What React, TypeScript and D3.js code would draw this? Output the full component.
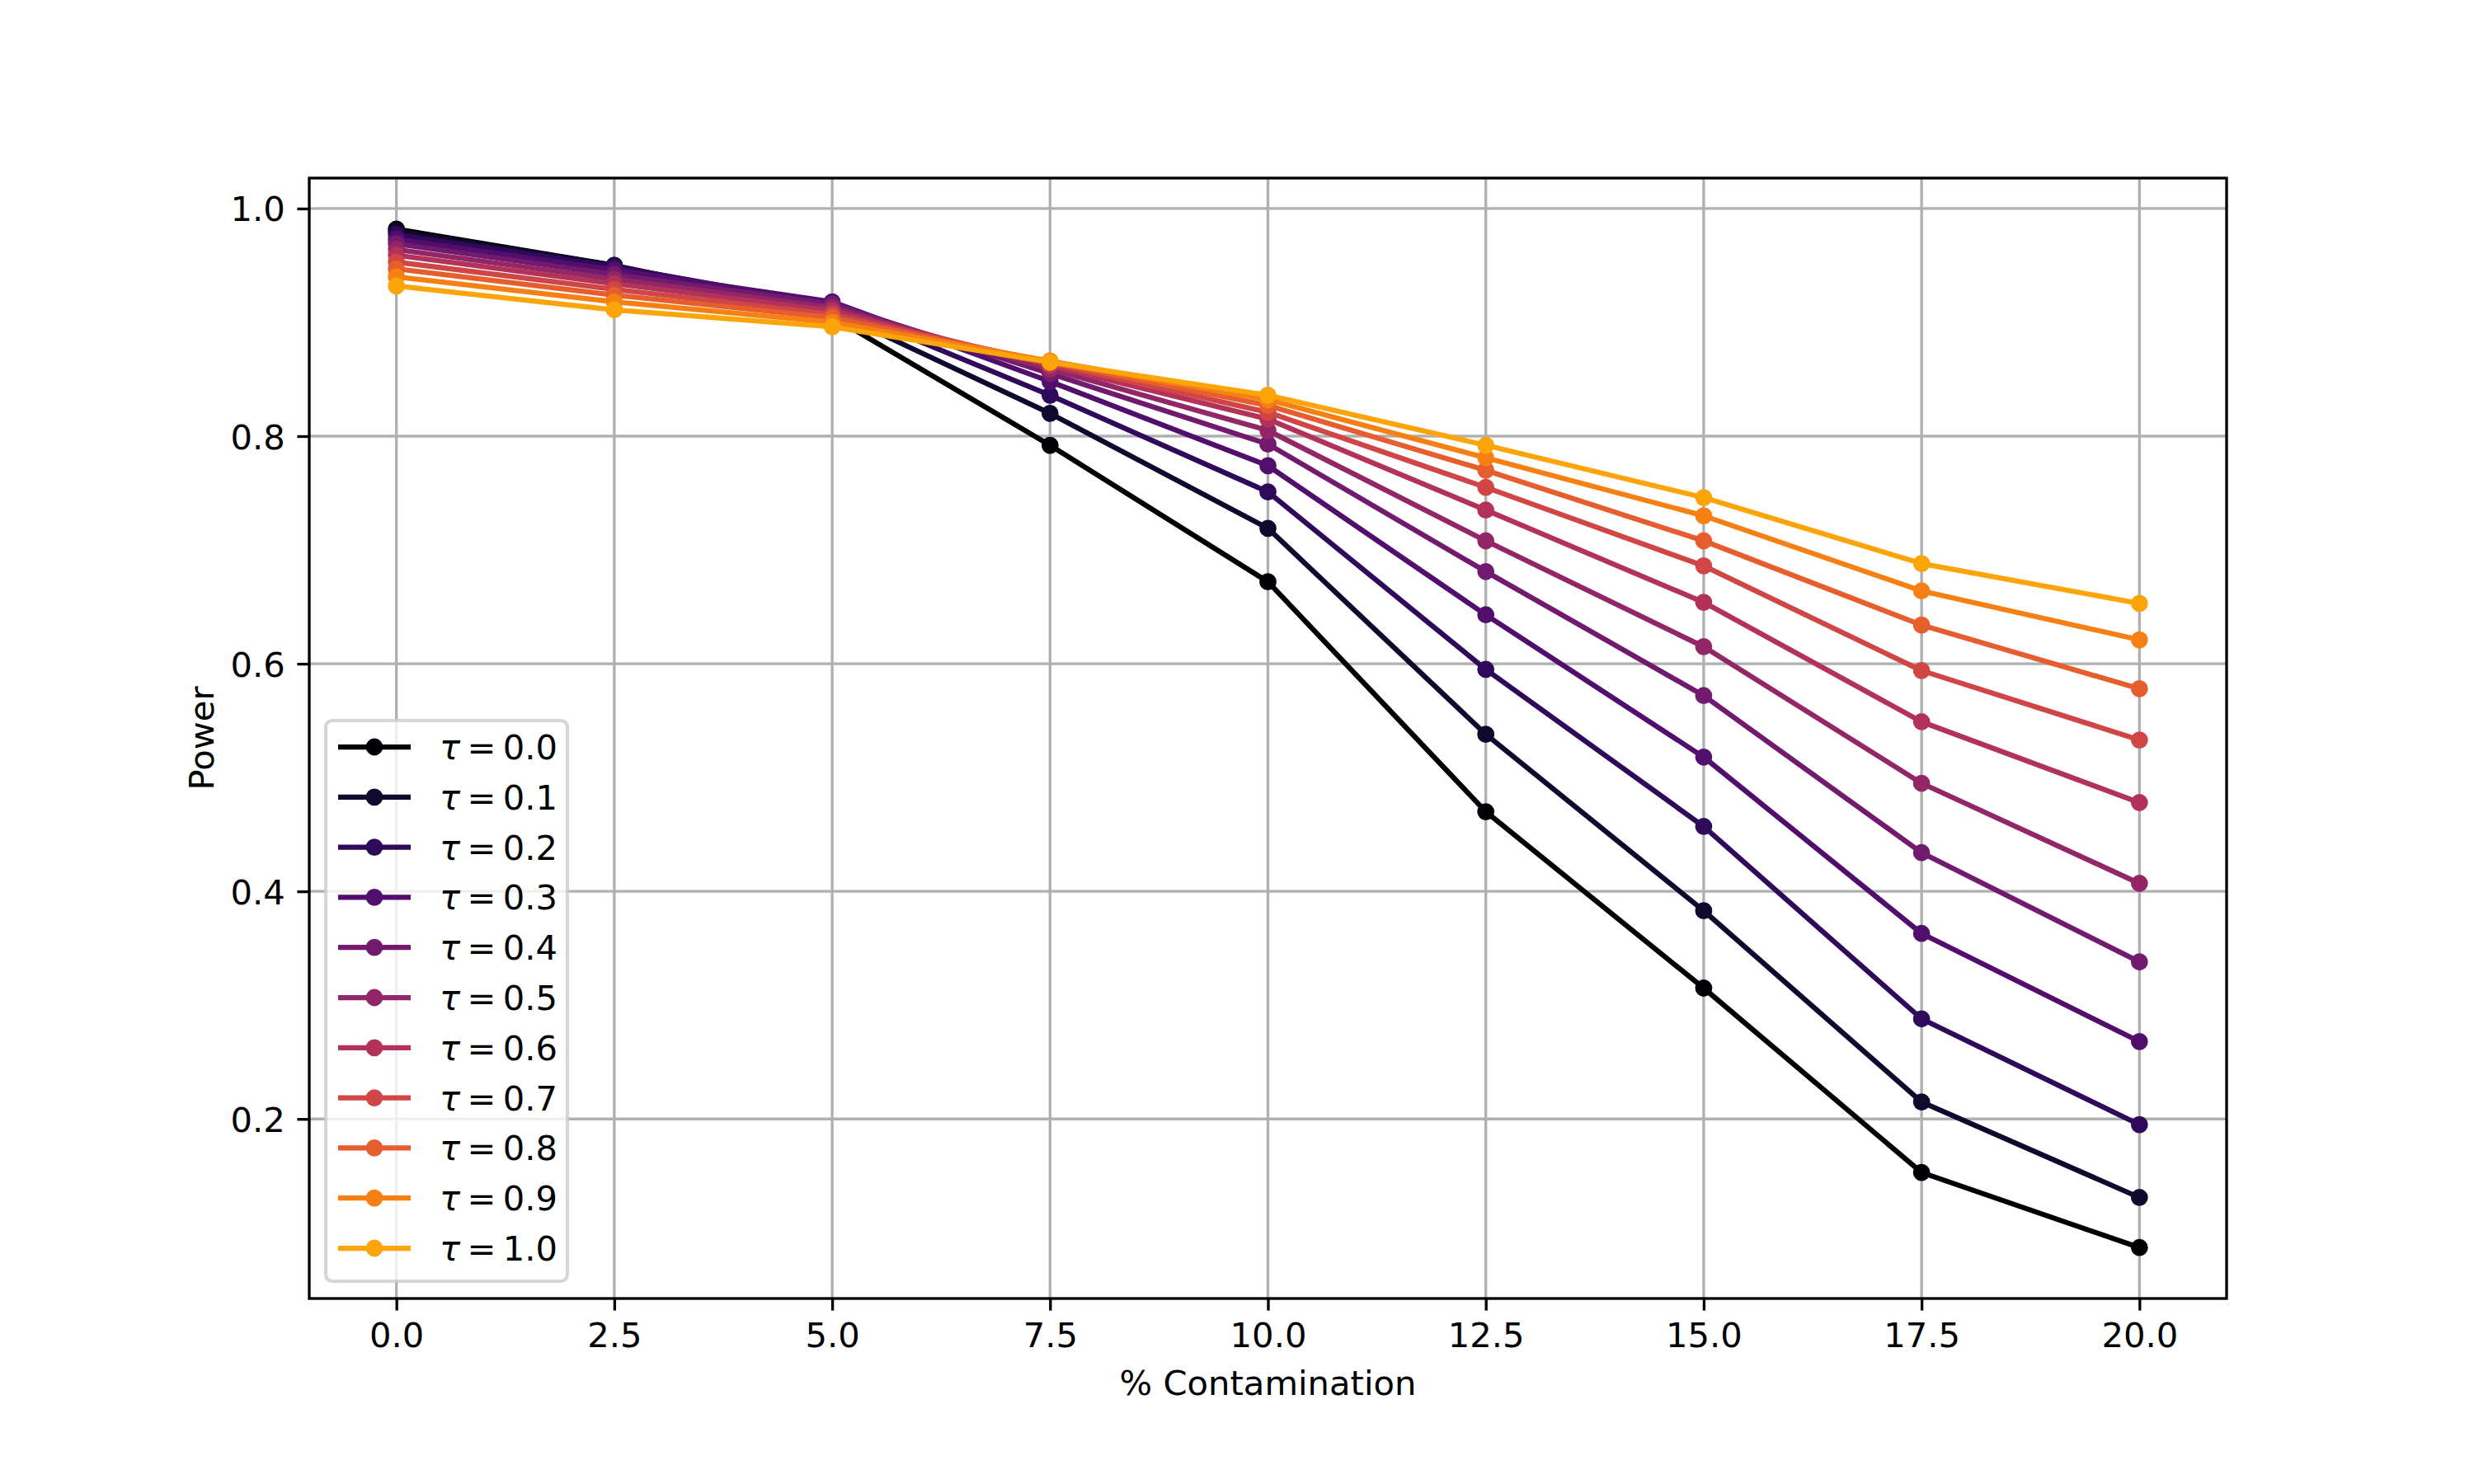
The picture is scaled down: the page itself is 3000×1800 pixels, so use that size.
import React, { useRef, useEffect } from 'react'
import * as d3 from 'd3'

// % contamination on the x axis
const contamination = [0, 2.5, 5, 7.5, 10, 12.5, 15, 17.5, 20]
const tauValues = [0.0, 0.1, 0.2, 0.3, 0.4, 0.5, 0.6, 0.7, 0.8, 0.9, 1.0]

// power per tau
const powerTau00 = [0.982, 0.950, 0.905, 0.792, 0.672, 0.470, 0.315, 0.153, 0.087]
const powerTau01 = [0.980, 0.950, 0.910, 0.820, 0.719, 0.538, 0.383, 0.215, 0.131]
const powerTau02 = [0.977, 0.949, 0.915, 0.836, 0.751, 0.595, 0.457, 0.288, 0.195]
const powerTau03 = [0.973, 0.946, 0.918, 0.848, 0.774, 0.643, 0.518, 0.363, 0.268]
const powerTau04 = [0.969, 0.942, 0.916, 0.855, 0.793, 0.681, 0.572, 0.434, 0.338]
const powerTau05 = [0.964, 0.938, 0.913, 0.859, 0.805, 0.708, 0.615, 0.495, 0.407]
const powerTau06 = [0.959, 0.934, 0.910, 0.862, 0.815, 0.735, 0.654, 0.549, 0.478]
const powerTau07 = [0.953, 0.929, 0.907, 0.864, 0.821, 0.755, 0.686, 0.594, 0.533]
const powerTau08 = [0.947, 0.924, 0.904, 0.865, 0.827, 0.770, 0.708, 0.634, 0.578]
const powerTau09 = [0.940, 0.918, 0.900, 0.866, 0.832, 0.781, 0.730, 0.664, 0.621]
const powerTau10 = [0.932, 0.911, 0.896, 0.865, 0.836, 0.792, 0.746, 0.688, 0.653]

const powerSeries = [
  powerTau00, powerTau01, powerTau02, powerTau03, powerTau04, powerTau05,
  powerTau06, powerTau07, powerTau08, powerTau09, powerTau10
]

const yTicks = [0.2, 0.4, 0.6, 0.8, 1.0]

const WIDTH = 3000
const HEIGHT = 1800
const margins = { top: 216, right: 300, bottom: 225, left: 375 }
const FONT = '"DejaVu Sans", sans-serif'
const FS = 41.7
const LW = 6.25
const THIN = 3.33
const TICK = 14.6

function padded (lo: number, hi: number) {
  const m = (hi - lo) * 0.05
  return [lo - m, hi + m]
}

export default function App () {
  const ref = useRef<SVGSVGElement>(null)

  useEffect(() => {
    if (ref.current === null) return
    const svg = d3.select(ref.current)
    svg.selectAll('*').remove()

    const x0 = margins.left
    const x1 = WIDTH - margins.right
    const y0 = margins.top
    const y1 = HEIGHT - margins.bottom

    const allY = powerSeries.flat()
    const x = d3.scaleLinear()
      .domain(padded(d3.min(contamination)!, d3.max(contamination)!))
      .range([x0, x1])
    const y = d3.scaleLinear()
      .domain(padded(d3.min(allY)!, d3.max(allY)!))
      .range([y1, y0])

    const color = (i: number) => d3.interpolateInferno(i * 0.08)

    svg.append('rect')
      .attr('width', WIDTH).attr('height', HEIGHT).attr('fill', '#ffffff')

    // grid
    const grid = svg.append('g').attr('stroke', '#b0b0b0').attr('stroke-width', THIN)
    grid.selectAll('line.vx').data(contamination).enter().append('line')
      .attr('x1', (d) => x(d)).attr('x2', (d) => x(d))
      .attr('y1', y0).attr('y2', y1)
    grid.selectAll('line.hy').data(yTicks).enter().append('line')
      .attr('x1', x0).attr('x2', x1)
      .attr('y1', (d) => y(d)).attr('y2', (d) => y(d))

    // series
    const line = d3.line<number>()
      .x((_d, i) => x(contamination[i]))
      .y((d) => y(d))

    const body = svg.append('g')
    powerSeries.forEach((serie, i) => {
      const g = body.append('g')
      g.append('path')
        .attr('d', line(serie))
        .attr('fill', 'none')
        .attr('stroke', color(i))
        .attr('stroke-width', LW)
        .attr('stroke-linejoin', 'round')
        .attr('stroke-linecap', 'square')
      g.selectAll('circle').data(serie).enter().append('circle')
        .attr('cx', (_d, j) => x(contamination[j]))
        .attr('cy', (d) => y(d))
        .attr('r', 8.3)
        .attr('fill', color(i))
        .attr('stroke', color(i))
        .attr('stroke-width', 4.17)
    })

    // axes
    const xAxis = d3.axisBottom(x)
      .tickValues(contamination)
      .tickFormat(d3.format('.1f'))
      .tickSizeInner(TICK).tickSizeOuter(0).tickPadding(15)
    const yAxis = d3.axisLeft(y)
      .tickValues(yTicks)
      .tickFormat(d3.format('.1f'))
      .tickSizeInner(TICK).tickSizeOuter(0).tickPadding(14.6)

    const gx = svg.append('g').attr('transform', `translate(0,${y1})`).call(xAxis)
    const gy = svg.append('g').attr('transform', `translate(${x0},0)`).call(yAxis)
    ;[gx, gy].forEach((g) => {
      g.select('.domain').remove()
      g.selectAll('line').attr('stroke', '#000').attr('stroke-width', THIN)
      g.selectAll('text')
        .attr('fill', '#000')
        .style('font-family', FONT)
        .style('font-size', `${FS}px`)
    })
    gy.selectAll('text').attr('dy', '0.36em')

    svg.append('rect')
      .attr('x', x0).attr('y', y0)
      .attr('width', x1 - x0).attr('height', y1 - y0)
      .attr('fill', 'none').attr('stroke', '#000').attr('stroke-width', THIN)

    svg.append('text')
      .attr('x', (x0 + x1) / 2).attr('y', 1692)
      .attr('text-anchor', 'middle')
      .style('font-family', FONT).style('font-size', `${FS}px`)
      .text('% Contamination')

    svg.append('text')
      .attr('transform', `translate(259,${(y0 + y1) / 2}) rotate(-90)`)
      .attr('text-anchor', 'middle')
      .style('font-family', FONT).style('font-size', `${FS}px`)
      .text('Power')

    // legend
    const lg = svg.append('g').attr('transform', 'translate(395,874)')
    lg.append('rect')
      .attr('width', 293).attr('height', 680)
      .attr('rx', 8).attr('ry', 8)
      .attr('fill', '#ffffff').attr('fill-opacity', 0.8)
      .attr('stroke', '#cccccc').attr('stroke-opacity', 0.8)
      .attr('stroke-width', 4.17)

    const rowH = 60.8
    const rows = lg.selectAll('g.row').data(tauValues).enter().append('g')
      .attr('transform', (_d, i) => `translate(0,${32 + i * rowH})`)
    rows.append('line')
      .attr('x1', 15).attr('x2', 103)
      .attr('stroke', (_d, i) => color(i))
      .attr('stroke-width', LW)
    rows.append('circle')
      .attr('cx', 59).attr('r', 8.3)
      .attr('fill', (_d, i) => color(i))
      .attr('stroke', (_d, i) => color(i))
      .attr('stroke-width', 4.17)
    const label = rows.append('text')
      .attr('x', 138).attr('y', 15)
      .attr('fill', '#000')
      .style('font-family', FONT).style('font-size', `${FS}px`)
    label.append('tspan').style('font-style', 'italic').text('τ')
    label.append('tspan').text((d) => `\u2009=\u2009${d3.format('.1f')(d)}`)
  }, [])

  return (
    <svg
      ref={ref}
      width={WIDTH}
      height={HEIGHT}
      style={{ position: 'absolute', left: 0, top: 0 }}
    />
  )
}
